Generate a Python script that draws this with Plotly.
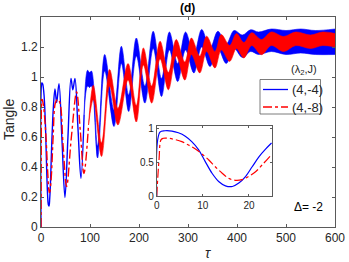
import plotly.graph_objects as go

# ---------------- data ----------------
# early part 0..25, shared by the main panel and the inset
tau_early_b = [0, 0.7, 1.8, 3.3, 4.7, 6.2, 7.6, 9.1, 10.5, 12, 13.5, 14.9, 16.4, 17.8, 19.3, 20.7, 22.2, 23.6, 24.9]
val_early_b = [0, 0.94, 0.96, 0.955, 0.93, 0.88, 0.80, 0.68, 0.51, 0.335, 0.21, 0.15, 0.14, 0.19, 0.29, 0.43, 0.58, 0.69, 0.78]
tau_early_r = [0, 0.5, 0.95, 1.45, 2.5, 4, 5.45, 6.9, 8.4, 9.8, 11.3, 12.7, 14.2, 15.6, 17.1, 18.5, 20, 21.5, 22.9, 24.9]
val_early_r = [0, 0.53, 0.83, 0.85, 0.85, 0.83, 0.80, 0.75, 0.69, 0.62, 0.53, 0.43, 0.335, 0.26, 0.23, 0.24, 0.29, 0.36, 0.46, 0.61]

# thin-line part after the inset range, until the fast oscillation thickens
tau_mid_b = [28.5, 31.9, 36.7, 42.8, 48.9, 55, 61.2, 65, 69.3, 75.4, 81.5, 88]
val_mid_b = [0.92, 0.83, 0.955, 0.58, 0.197, 0.60, 0.99, 0.915, 0.99, 0.66, 0.325, 0.75]
tau_mid_r = [29.6, 34, 38.5, 45, 52.3, 62, 72.7, 80, 87.6, 97]
val_mid_r = [0.83, 0.85, 0.83, 0.55, 0.27, 0.60, 0.90, 0.65, 0.357, 0.68]

# thick band (fast oscillation): upper and lower edges at slow turning points
tau_band_b = [88, 95, 99, 103, 115.5, 130, 149, 164, 179, 194.5, 212, 229, 246, 262, 279, 295, 312, 328, 345,
              361, 378, 394, 411, 428, 444, 470, 500, 530, 560, 600]
up_band_b = [0.75, 1.045, 1.03, 1.04, 0.54, 1.15, 0.78, 1.205, 0.88, 1.26, 0.94, 1.305, 0.99, 1.30, 1.09, 1.30, 1.15,
             1.317, 1.19, 1.305, 1.22, 1.31, 1.28, 1.315, 1.30, 1.32, 1.31, 1.32, 1.31, 1.32]
lo_band_b = [0.75, 0.94, 0.93, 0.94, 0.46, 1.04, 0.67, 1.09, 0.77, 1.14, 0.826, 1.19, 0.87, 1.18, 0.97, 1.18, 1.027,
             1.20, 1.07, 1.19, 1.09, 1.19, 1.13, 1.17, 1.15, 1.17, 1.15, 1.16, 1.15, 1.15]

tau_band_r = [97, 106.7, 123.6, 140, 157, 177.6, 194.5, 209, 226, 243, 260, 276, 293.5, 307, 324, 338, 355, 368, 385,
              399, 414, 430, 450, 470, 495, 520, 550, 575, 600]
up_band_r = [0.68, 0.945, 0.56, 1.05, 0.79, 1.09, 0.81, 1.194, 0.94, 1.238, 1.03, 1.25, 1.10, 1.26, 1.14, 1.272, 1.17,
             1.283, 1.21, 1.29, 1.23, 1.295, 1.25, 1.30, 1.27, 1.30, 1.28, 1.30, 1.29]
lo_band_r = [0.68, 0.85, 0.47, 0.94, 0.68, 0.98, 0.70, 1.08, 0.826, 1.12, 0.915, 1.14, 0.98, 1.15, 1.027, 1.17, 1.06,
             1.18, 1.104, 1.19, 1.127, 1.21, 1.149, 1.21, 1.17, 1.21, 1.19, 1.21, 1.20]

x_ticks = [0, 100, 200, 300, 400, 500, 600]
y_ticks = [0, 0.2, 0.4, 0.6, 0.8, 1.0, 1.2]
y_ticktext = ['0', '0.2', '0.4', '0.6', '0.8', '1', '1.2']
inset_x_ticks = [0, 10, 20]
inset_y_ticks = [0, 0.5, 1]
inset_y_ticktext = ['0', '0.5', '1']
legend_labels = ['(4,-4)', '(4,-8)']

BLUE = '#0000ff'
RED = '#ff0000'
AX = '#5a5a5a'
TXT = '#262626'
FONT = 'Liberation Sans, Arial, sans-serif'

fig = go.Figure()

# blue band
fig.add_trace(go.Scatter(x=tau_band_b, y=up_band_b, mode='lines',
                         line=dict(color=BLUE, width=0.6, shape='spline'), hoverinfo='skip'))
fig.add_trace(go.Scatter(x=tau_band_b, y=lo_band_b, mode='lines', fill='tonexty', fillcolor=BLUE,
                         line=dict(color=BLUE, width=0.6, shape='spline'), hoverinfo='skip'))
# blue thin line
fig.add_trace(go.Scatter(x=tau_early_b + tau_mid_b, y=val_early_b + val_mid_b, mode='lines',
                         line=dict(color=BLUE, width=1.4, shape='spline')))
# red band
fig.add_trace(go.Scatter(x=tau_band_r, y=up_band_r, mode='lines',
                         line=dict(color=RED, width=0.6, shape='spline'), hoverinfo='skip'))
fig.add_trace(go.Scatter(x=tau_band_r, y=lo_band_r, mode='lines', fill='tonexty', fillcolor=RED,
                         line=dict(color=RED, width=0.6, shape='spline'), hoverinfo='skip'))
# red thin line
fig.add_trace(go.Scatter(x=tau_early_r + tau_mid_r, y=val_early_r + val_mid_r, mode='lines',
                         line=dict(color=RED, width=1.4, shape='spline', dash='dashdot')))

# inset
fig.add_trace(go.Scatter(x=tau_early_b, y=val_early_b, mode='lines', xaxis='x2', yaxis='y2',
                         line=dict(color=BLUE, width=1.2, shape='spline')))
fig.add_trace(go.Scatter(x=tau_early_r, y=val_early_r, mode='lines', xaxis='x2', yaxis='y2',
                         line=dict(color=RED, width=1.2, shape='spline', dash='dashdot')))

L, R, T, B = 41, 14, 17, 35
W, H = 349, 262
PW, PH = W - L - R, H - T - B


def px(x):
    return (x - L) / PW


def py(y):
    return (H - B - y) / PH


axis_common = dict(showline=True, linecolor=AX, linewidth=0.8, mirror='ticks', ticks='inside',
                   tickcolor=AX, showgrid=False, zeroline=False, automargin=False)

fig.update_layout(
    width=W, height=H, margin=dict(l=L, r=R, t=T, b=B, autoexpand=False),
    paper_bgcolor='white', plot_bgcolor='white', showlegend=False,
    font=dict(family=FONT, size=12, color=TXT),
    xaxis=dict(range=[0, 600], tickvals=x_ticks, ticklen=3, tickfont=dict(size=12, color=TXT), **axis_common),
    yaxis=dict(range=[0, 1.4], tickvals=y_ticks, ticktext=y_ticktext, ticklen=3,
               tickfont=dict(size=12, color=TXT), **axis_common),
    xaxis2=dict(domain=[px(156.7), px(272)], anchor='y2', range=[0, 25], tickvals=inset_x_ticks, ticklen=2,
                tickfont=dict(size=10, color=TXT), **axis_common),
    yaxis2=dict(domain=[py(196), py(126)], anchor='x2', range=[0, 1.03], tickvals=inset_y_ticks,
                ticktext=inset_y_ticktext, ticklen=2, tickfont=dict(size=10, color=TXT), **axis_common),
)

ann = [
    dict(text='<b>(d)</b>', x=px(187), y=py(8), font=dict(size=12, color='black')),
    dict(text='Tangle', x=px(9), y=py(120), textangle=-90, font=dict(size=14, color=TXT)),
    dict(text='<i>τ</i>', x=px(208), y=py(253), font=dict(size=14, color=TXT)),
    dict(text='Δ= -2', x=px(308), y=py(207), font=dict(size=12, color='black')),
    dict(text='(λ<sub>2</sub>,J)', x=px(304), y=py(70), font=dict(size=11, color=TXT)),
    dict(text=legend_labels[0], x=px(290), y=py(89.5), xanchor='left', font=dict(size=13, color=TXT)),
    dict(text=legend_labels[1], x=px(290), y=py(107), xanchor='left', font=dict(size=13, color=TXT)),
]
for a in ann:
    a.setdefault('xanchor', 'center')
    fig.add_annotation(xref='paper', yref='paper', showarrow=False, yanchor='middle', **a)

fig.add_shape(type='rect', xref='paper', yref='paper', x0=px(260), x1=px(320.5), y0=py(114), y1=py(79.5),
              line=dict(color=AX, width=0.8), fillcolor='white', layer='above')
fig.add_shape(type='line', xref='paper', yref='paper', x0=px(263), x1=px(288), y0=py(89.5), y1=py(89.5),
              line=dict(color=BLUE, width=1.3))
fig.add_shape(type='line', xref='paper', yref='paper', x0=px(263), x1=px(288), y0=py(107), y1=py(107),
              line=dict(color=RED, width=1.3, dash='dashdot'))

fig.write_html('out.html', config={'displayModeBar': False},
               post_script="document.body.style.margin='0';document.body.style.padding='0';")
